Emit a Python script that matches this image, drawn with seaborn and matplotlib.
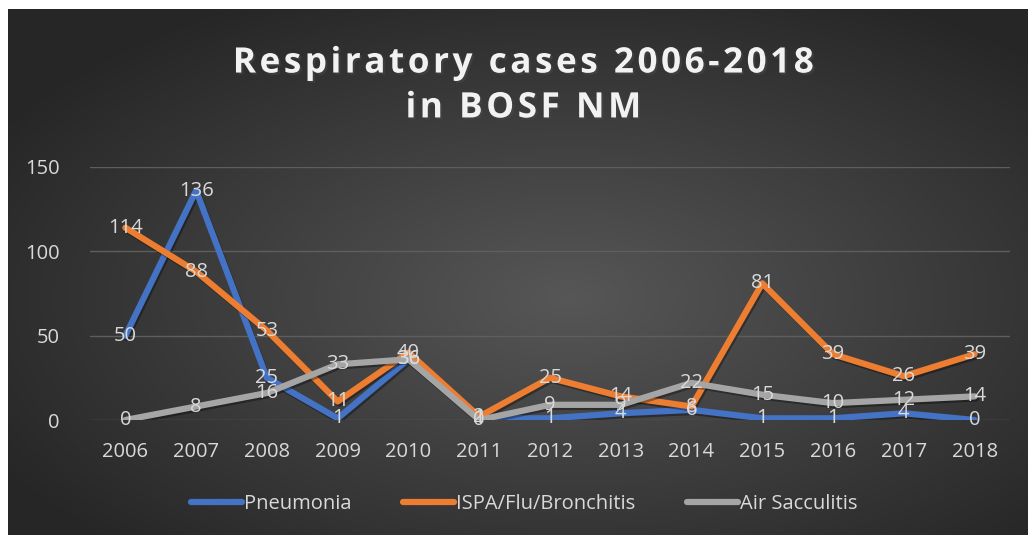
import numpy as np
import pandas as pd
import seaborn as sns
import matplotlib.pyplot as plt
import matplotlib.patheffects as pe
from matplotlib.lines import Line2D

sns.set_style("dark")
plt.rcParams['font.family'] = ['Open Sans', 'DejaVu Sans']

# Data
years = [2006, 2007, 2008, 2009, 2010, 2011, 2012, 2013, 2014, 2015, 2016, 2017, 2018]
pneumonia = [50, 136, 25, 1, 36, 1, 1, 4, 6, 1, 1, 4, 0]
ispa = [114, 88, 53, 11, 40, 2, 25, 14, 8, 81, 39, 26, 39]
air_sacculitis = [0, 8, 16, 33, 36, 0, 9, 9, 22, 15, 10, 12, 14]
series_names = ['Pneumonia', 'ISPA/Flu/Bronchitis', 'Air Sacculitis']
colors = ['#4472C4', '#ED7D31', '#A5A5A5']
title = 'Respiratory cases 2006-2018\nin BOSF NM'

df = pd.DataFrame({
    'year': years * 3,
    'cases': pneumonia + ispa + air_sacculitis,
    'series': [s for s in series_names for _ in years],
})

fig = plt.figure(figsize=(10.28, 5.35), dpi=100)
fig.patch.set_facecolor('white')

# dark radial gradient background
bg = fig.add_axes([8 / 1028, 0, 1 - 8 / 1028, 1 - 9 / 535])
gx, gy = np.meshgrid(np.linspace(-1, 1, 400), np.linspace(-1, 1, 220))
r = np.clip(np.sqrt((gx - 0.1) ** 2 + (gy - 0.1) ** 2) / 1.3, 0, 1)
shade = 0.34 - 0.19 * r
bg.imshow(np.dstack([shade, shade, shade]), aspect='auto', extent=[0, 1, 0, 1])
bg.set_axis_off()

ax = fig.add_axes([90 / 1028, 1 - 420 / 535, (1010 - 90) / 1028, (420 - 167) / 535])
ax.set_facecolor('none')

sns.lineplot(data=df, x='year', y='cases', hue='series', palette=colors,
             linewidth=4.5, ax=ax, legend=False,
             path_effects=[pe.SimpleLineShadow(offset=(1, -1.5), alpha=0.35), pe.Normal()])

# data labels centred on the points
for vals in [pneumonia, ispa, air_sacculitis]:
    for x, v in zip(years, vals):
        ax.text(x, v, str(v), ha='center', va='center', fontsize=14.5,
                color='#D9D9D9')

ax.set_xlim(2005.5, 2018.5)
ax.set_ylim(0, 150)
ax.set_xticks(years)
ax.set_xticklabels([str(y) for y in years])
ax.set_yticks([0, 50, 100, 150])
ax.tick_params(axis='both', colors='#D9D9D9', labelsize=14.5, length=0)
ax.tick_params(axis='x', pad=16)
ax.tick_params(axis='y', pad=22)
ax.grid(axis='y', color='#5E5E5E', linewidth=1)
ax.grid(axis='x', visible=False)
for s in ax.spines.values():
    s.set_visible(False)
ax.set_xlabel('')
ax.set_ylabel('')

# title with letter spacing (hair spaces between letters)
spaced = '\n'.join('\u200a'.join(line) for line in title.split('\n'))
fig.text(0.509, 1 - 86 / 535, spaced, ha='center', va='center',
         fontsize=25.3, fontweight='bold', color='#F2F2F2', linespacing=1.33,
         path_effects=[pe.withSimplePatchShadow(offset=(1.5, -1.5), alpha=0.5)])

# legend
handles = [Line2D([0], [0], color=c, linewidth=4.5, solid_capstyle='round') for c in colors]
fig.legend(handles, series_names, loc='center', bbox_to_anchor=(0.51, 1 - 504 / 535),
           ncol=3, frameon=False, fontsize=14.5, labelcolor='#D9D9D9',
           handlelength=2.5, handletextpad=0.1, columnspacing=2.6)

plt.savefig('out.png', dpi=100)
